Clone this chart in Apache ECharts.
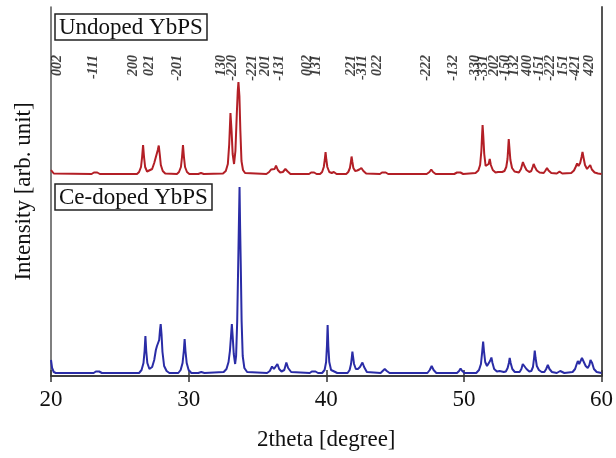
<!DOCTYPE html>
<html>
<head>
<meta charset="utf-8">
<script src="https://cdn.jsdelivr.net/npm/echarts@6/dist/echarts.min.js"></script>
<style>
  html, body { margin: 0; padding: 0; background: #fff; }
  #chart { width: 616px; height: 458px; }
</style>
</head>
<body>
<div id="chart"></div>
<script>
// XRD patterns: [2theta, intensity] (arb. unit, red offset upward)
const undopedXrd = [
  [20.0, 206], [20.2, 202.5], [22.95, 202], [23.12, 203.5], [23.24, 204.5], [23.36, 203.5], [23.55, 202],
  [26.25, 202], [26.4, 204], [26.54, 209], [26.62, 219], [26.69, 231], [26.76, 219], [26.84, 209],
  [26.98, 204.5], [27.1, 204],
  [27.35, 207], [27.5, 213], [27.6, 218], [27.68, 220], [27.76, 226], [27.83, 230.5], [27.9, 222],
  [27.98, 211], [28.12, 205], [28.3, 202.5],
  [29.15, 202], [29.3, 204], [29.44, 209], [29.52, 219], [29.59, 231], [29.66, 219], [29.74, 209],
  [29.88, 204], [30.05, 202], [30.7, 202], [30.9, 203], [31.1, 202],
  [32.5, 202.5], [32.7, 205], [32.85, 212], [32.95, 232], [33.04, 263], [33.12, 245], [33.2, 222],
  [33.3, 212], [33.4, 225], [33.5, 262], [33.57, 285], [33.62, 294], [33.69, 280], [33.76, 245],
  [33.84, 215], [33.95, 206], [34.1, 203],
  [35.65, 202], [35.85, 204], [35.99, 206.5], [36.12, 205], [36.25, 207], [36.35, 210.5], [36.48, 206],
  [36.65, 203.5], [36.85, 204], [37.03, 207], [37.2, 204.5], [37.4, 202],
  [38.75, 202], [38.9, 203.5], [39.0, 204.5], [39.12, 203.5], [39.3, 202],
  [39.55, 202], [39.7, 204], [39.82, 209], [39.89, 216], [39.95, 224], [40.01, 216], [40.08, 209],
  [40.22, 204], [40.4, 203], [40.55, 204], [40.75, 202],
  [41.45, 202], [41.6, 204], [41.72, 208], [41.79, 214], [41.84, 219.5], [41.9, 214], [41.97, 208],
  [42.1, 205], [42.25, 205.5], [42.4, 206.5], [42.55, 208], [42.7, 205], [42.9, 202.5],
  [43.9, 202], [44.05, 203.5], [44.18, 204.5], [44.32, 203.5], [44.5, 202],
  [47.3, 202], [47.5, 204], [47.63, 206.5], [47.76, 204], [47.95, 202],
  [49.3, 202], [49.5, 203.5], [49.62, 204.3], [49.75, 203.5], [49.95, 202],
  [50.85, 203], [51.05, 205.5], [51.18, 211], [51.27, 225], [51.32, 240], [51.36, 251], [51.41, 240],
  [51.48, 222], [51.58, 210], [51.7, 208], [51.8, 212], [51.88, 217], [51.96, 211], [52.1, 206],
  [52.3, 203.5], [52.48, 204], [52.62, 205], [52.78, 204],
  [52.95, 205], [53.08, 209], [53.17, 217], [53.22, 228], [53.26, 237], [53.31, 228], [53.38, 216],
  [53.5, 208], [53.68, 204.5],
  [54.0, 203.5], [54.15, 207], [54.29, 214], [54.4, 210], [54.55, 206], [54.75, 204],
  [54.9, 205], [55.0, 209], [55.07, 212], [55.16, 209], [55.3, 205.5], [55.5, 203.5],
  [55.8, 203], [55.93, 205.5], [56.04, 208], [56.15, 205.5], [56.35, 203],
  [56.75, 202.5], [56.95, 204.3], [57.15, 202.5],
  [57.8, 203], [58.0, 205.5], [58.12, 209], [58.23, 212.5], [58.33, 210], [58.45, 213], [58.55, 219],
  [58.62, 224], [58.7, 218], [58.8, 211], [58.95, 207], [59.08, 208], [59.18, 211], [59.3, 206.5],
  [59.5, 203.5], [59.75, 202.5], [60.0, 202]
];
const ceDopedXrd = [
  [20.0, 16], [20.08, 8], [20.2, 4], [20.35, 3],
  [23.1, 3], [23.26, 4.5], [23.38, 5.5], [23.5, 4.5], [23.7, 3],
  [26.4, 3], [26.58, 6], [26.72, 13], [26.8, 25], [26.86, 40], [26.92, 25], [27.0, 13], [27.15, 7],
  [27.35, 9], [27.5, 16], [27.62, 26], [27.7, 30], [27.78, 29], [27.86, 36], [27.92, 46], [27.97, 52],
  [28.03, 42], [28.1, 24], [28.22, 10], [28.4, 5], [28.6, 3],
  [29.25, 3], [29.42, 6], [29.56, 13], [29.65, 25], [29.71, 37], [29.77, 25], [29.86, 13], [30.0, 6],
  [30.2, 3], [30.7, 3], [30.92, 4], [31.15, 3],
  [32.55, 4], [32.75, 7], [32.9, 14], [33.0, 25], [33.08, 40], [33.14, 52], [33.2, 40], [33.28, 22],
  [33.38, 12], [33.45, 20], [33.53, 55], [33.6, 110], [33.65, 150], [33.7, 189], [33.74, 150],
  [33.79, 110], [33.85, 55], [33.93, 20], [34.05, 8], [34.25, 4],
  [35.7, 3], [35.9, 5], [36.06, 9.5], [36.2, 7], [36.32, 9], [36.45, 12], [36.58, 7], [36.75, 4.5],
  [36.95, 6], [37.1, 13.5], [37.23, 8], [37.45, 4],
  [38.8, 3], [38.95, 4.5], [39.08, 6], [39.22, 4.5], [39.4, 3],
  [39.7, 3], [39.88, 6], [39.99, 14], [40.05, 30], [40.1, 51], [40.15, 30], [40.22, 14], [40.35, 6],
  [40.48, 4], [40.58, 4.5], [40.8, 3],
  [41.55, 3], [41.7, 6], [41.8, 12], [41.86, 19], [41.9, 24.5], [41.95, 19], [42.02, 12], [42.15, 7],
  [42.3, 7], [42.45, 9], [42.63, 13.5], [42.75, 9], [42.95, 4],
  [43.95, 3], [44.1, 5], [44.25, 7], [44.4, 5], [44.6, 3],
  [47.35, 3], [47.52, 6], [47.66, 10], [47.8, 6], [48.0, 3],
  [49.5, 3], [49.65, 5], [49.76, 7.5], [49.88, 5], [50.05, 3],
  [50.9, 3], [51.1, 6], [51.24, 12], [51.33, 24], [51.4, 34.5], [51.46, 25], [51.55, 14], [51.68, 10],
  [51.8, 11], [51.9, 15], [52.0, 18.5], [52.08, 13], [52.2, 7], [52.4, 4.5],
  [52.6, 5], [52.73, 6], [52.9, 4],
  [53.05, 4.5], [53.18, 8], [53.27, 13], [53.33, 18], [53.4, 13], [53.52, 7], [53.7, 4],
  [54.05, 4], [54.18, 7], [54.28, 12], [54.35, 11], [54.42, 12], [54.55, 7], [54.75, 4.5],
  [54.9, 5], [55.02, 9], [55.1, 18], [55.15, 25.5], [55.21, 18], [55.3, 10], [55.45, 6], [55.65, 4],
  [55.85, 4], [55.98, 7], [56.1, 11], [56.22, 7], [56.4, 4],
  [56.75, 3], [56.88, 4], [57.0, 5], [57.12, 4], [57.3, 3],
  [57.9, 4], [58.08, 7], [58.2, 12], [58.28, 15], [58.38, 12], [58.5, 14], [58.58, 18], [58.65, 19.5],
  [58.72, 16], [58.85, 10], [59.0, 8], [59.12, 11], [59.2, 16], [59.25, 18], [59.32, 13], [59.45, 7],
  [59.65, 4], [60.0, 3]
];
// Miller indices written above the peaks
const hklLabels = ["002", "-111", "200", "021", "-201", "130", "-220", "-221", "201", "-131",
  "002", "131", "221", "-311", "022", "-222", "-132",
  "-330", "-331", "202", "-150", "132", "400", "-151", "-222", "151", "-421", "420"];
const hklTheta = [20.5, 23.05, 26.0, 27.15, 29.15, 32.35, 33.15, 34.6, 35.55, 36.6,
  38.65, 39.3, 41.8, 42.65, 43.75, 47.25, 49.25,
  50.85, 51.45, 52.2, 53.0, 53.7, 54.6, 55.5, 56.3, 57.2, 58.1, 59.1];
const hklLevel = 321;
const xTicks = [20, 30, 40, 50, 60];

const serif = "'Liberation Serif', 'DejaVu Serif', serif";
const myChart = echarts.init(document.getElementById("chart"));

const boxStyle = {
  fontFamily: serif, fontSize: 23, fontWeight: "normal", color: "#111"
};

const option = {
  animation: false,
  backgroundColor: "#fff",
  title: [
    { text: "Undoped YbPS", left: 55, top: 14, padding: [2, 4, 1, 4],
      borderColor: "#222", borderWidth: 1.5, textStyle: boxStyle },
    { text: "Ce-doped YbPS", left: 55, top: 184, padding: [2, 4, 1, 4],
      borderColor: "#222", borderWidth: 1.5, textStyle: boxStyle }
  ],
  grid: { left: 51, right: 13, top: 7, bottom: 82 },
  xAxis: [
    {
      type: "value", min: xTicks[0], max: xTicks[xTicks.length - 1], interval: 10,
      position: "bottom",
      axisLine: { lineStyle: { color: "#333", width: 1.5 } },
      axisTick: { inside: true, length: 6, lineStyle: { color: "#333", width: 1.5 } },
      axisLabel: { fontFamily: serif, fontSize: 23, color: "#111", margin: 12 },
      splitLine: { show: false },
      name: "2theta [degree]", nameLocation: "middle", nameGap: 52,
      nameTextStyle: { fontFamily: serif, fontSize: 23, color: "#111" }
    },
    {
      type: "value", min: xTicks[0], max: xTicks[xTicks.length - 1], interval: 10,
      position: "top",
      axisLine: { lineStyle: { color: "#333", width: 1.5 } },
      axisTick: { inside: true, length: 6, lineStyle: { color: "#333", width: 1.5 } },
      axisLabel: { show: false },
      splitLine: { show: false }
    }
  ],
  yAxis: [
    {
      type: "value", min: 0, max: 369, position: "left",
      axisLine: { show: true, lineStyle: { color: "#555", width: 1.5 } },
      axisTick: { show: false }, axisLabel: { show: false }, splitLine: { show: false },
      name: "Intensity [arb. unit]", nameLocation: "middle", nameGap: 16,
      nameTextStyle: { fontFamily: serif, fontSize: 23, color: "#111" }
    },
    {
      type: "value", min: 0, max: 369, position: "right",
      axisLine: { show: true, lineStyle: { color: "#555", width: 2 } },
      axisTick: { show: false }, axisLabel: { show: false }, splitLine: { show: false }
    }
  ],
  series: [
    {
      name: "Undoped YbPS", type: "line", data: undopedXrd,
      showSymbol: false, smooth: false,
      lineStyle: { color: "#b31f26", width: 2 }
    },
    {
      name: "Ce-doped YbPS", type: "line", data: ceDopedXrd,
      showSymbol: false, smooth: false,
      lineStyle: { color: "#2a2ca6", width: 2 }
    },
    {
      name: "hkl", type: "scatter", symbolSize: 0, silent: true,
      data: hklTheta.map((t, i) => ({ value: [t, hklLevel], name: hklLabels[i] })),
      label: {
        show: true, position: [0, 0], rotate: 90, align: "right", verticalAlign: "middle",
        formatter: p => p.name,
        fontFamily: serif, fontSize: 14, fontStyle: "italic", fontWeight: "bold", color: "#111"
      }
    }
  ]
};
myChart.setOption(option);
window.addEventListener("resize", function () { myChart.resize(); });
</script>
</body>
</html>
